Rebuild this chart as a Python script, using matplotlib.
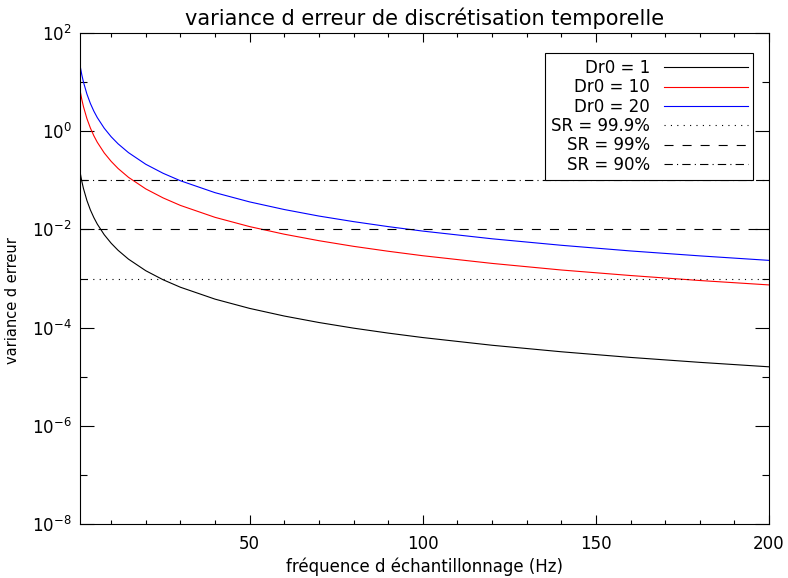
import matplotlib
matplotlib.use("Agg")
import matplotlib.pyplot as plt
from matplotlib.ticker import FixedLocator, MultipleLocator, NullFormatter

plt.rcParams['lines.scale_dashes'] = False

# frequence d'echantillonnage (Hz)
freq = [1, 1.5, 2, 3, 4, 5, 6, 8, 10, 12, 15, 20, 25, 30, 40, 50, 60, 70,
        80, 90, 100, 120, 140, 160, 180, 200]

# variance d'erreur
var_dr0_1 = [0.150, 0.0970, 0.0680, 0.0387, 0.0249, 0.0174, 0.0128, 0.00779,
             0.00523, 0.00375, 0.00248, 0.00144, 0.000943, 0.000664, 0.000380,
             0.000246, 0.000172, 0.000127, 9.75e-5, 7.73e-5, 6.27e-5, 4.37e-5,
             3.22e-5, 2.47e-5, 1.96e-5, 1.59e-5]
var_dr0_10 = [6.9, 4.5, 3.16, 1.80, 1.16, 0.807, 0.594, 0.361, 0.243, 0.174,
              0.115, 0.0668, 0.0438, 0.0308, 0.0176, 0.0114, 0.00798, 0.00589,
              0.00452, 0.00359, 0.00291, 0.00203, 0.00149, 0.00115, 0.00091,
              0.00074]
var_dr0_20 = [22.1, 14.3, 10.0, 5.7, 3.67, 2.56, 1.89, 1.15, 0.771, 0.553,
              0.366, 0.212, 0.139, 0.0979, 0.0560, 0.0363, 0.0254, 0.0187,
              0.0144, 0.0114, 0.00924, 0.00644, 0.00475, 0.00364, 0.00289,
              0.00234]

# seuils de Strehl ratio
sr_labels = ['SR = 99.9%', 'SR = 99%', 'SR = 90%']
sr_levels = [1e-3, 1e-2, 1e-1]

yticks_major = [1e-8, 1e-6, 1e-4, 1e-2, 1e0, 1e2]
ytick_labels = ['$10^{-8}$', '$10^{-6}$', '$10^{-4}$', '$10^{-2}$', '$10^{0}$', '$10^{2}$']
yticks_minor = [1e-7, 1e-5, 1e-3, 1e-1, 1e1]

fig = plt.figure(figsize=(7.88, 5.78), dpi=100)
ax = fig.add_axes([80/788, 1 - 524/578, 689/788, 491/578])

lw = 0.8
ax.plot(freq, var_dr0_1, color='black', lw=lw, label='Dr0 = 1')
ax.plot(freq, var_dr0_10, color='red', lw=lw, label='Dr0 = 10')
ax.plot(freq, var_dr0_20, color='blue', lw=lw, label='Dr0 = 20')

styles = [(0, (0.8, 3.8)), (0, (6.5, 6.5)), (0, (6, 3, 0.8, 3))]
for lab, lev, ls in zip(sr_labels, sr_levels, styles):
    ax.axhline(lev, color='black', lw=lw, linestyle=ls, label=lab)

ax.set_yscale('log')
ax.set_xlim(1, 200)
ax.set_ylim(1e-8, 1e2)

ax.xaxis.set_major_locator(MultipleLocator(50))
ax.xaxis.set_minor_locator(MultipleLocator(10))
ax.yaxis.set_major_locator(FixedLocator(yticks_major))
ax.yaxis.set_minor_locator(FixedLocator(yticks_minor))
ax.yaxis.set_minor_formatter(NullFormatter())
ax.set_yticklabels(ytick_labels)

ax.tick_params(axis='both', which='both', direction='in', top=True, right=True,
               width=0.8, labelsize=12)
ax.tick_params(axis='x', which='major', length=6.5, pad=8)
ax.tick_params(axis='x', which='minor', length=3)
ax.tick_params(axis='y', which='major', length=10, pad=6)
ax.tick_params(axis='y', which='minor', length=5)
for sp in ax.spines.values():
    sp.set_linewidth(0.8)

ax.set_title('variance d erreur de discrétisation temporelle', fontsize=15, pad=6)
ax.set_xlabel('fréquence d échantillonnage (Hz)', fontsize=12, labelpad=3)
ax.set_ylabel('variance d erreur', fontsize=10.5)
ax.yaxis.set_label_coords(-0.087, 0.455)

leg = ax.legend(loc='upper right', bbox_to_anchor=(0.9775, 0.9587),
                borderaxespad=0, markerfirst=False, fontsize=12,
                handlelength=5.0, handletextpad=0.85, labelspacing=0.08,
                borderpad=0.35, fancybox=False, framealpha=1,
                edgecolor='black')
leg.get_frame().set_linewidth(0.8)

fig.savefig('out.png', dpi=100)
